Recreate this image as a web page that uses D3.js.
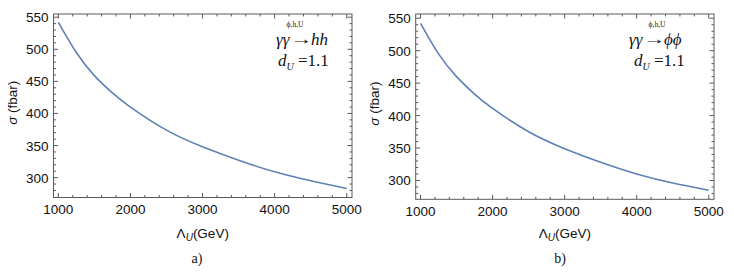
<html><head>
<meta charset="utf-8">
<script src="https://cdnjs.cloudflare.com/ajax/libs/d3/7.8.5/d3.min.js"></script>
<style>
  body { margin: 0; background: #fff; }
  .tick-label { font-family: "Liberation Sans", Arial, sans-serif; font-size: 13.5px; fill: #111; }
  .axis-title { font-family: "Liberation Sans", Arial, sans-serif; font-size: 13.5px; fill: #111; }
  .anno { font-family: "Liberation Serif", "Times New Roman", serif; fill: #111; }
  .panel-tag { font-family: "Liberation Serif", "Times New Roman", serif; font-size: 14px; fill: #111; }
</style>
</head>
<body>
<script>
// values
var lambdaU = [1000, 1250, 1500, 1750, 2000, 2500, 3000, 3500, 4000, 4500, 5000];
var sigmaHH = [542, 495, 459, 432, 410, 374, 348, 327, 309, 295, 283];
var sigmaPhiPhi = [542, 495, 460, 433, 411, 375, 349, 328, 310, 296, 285];
var xTicks = [1000, 2000, 3000, 4000, 5000];
var yTicks = [300, 350, 400, 450, 500, 550];

var svg = d3.select("body").append("svg")
    .attr("width", 734).attr("height", 278);

function panel(opt) {
    var g = svg.append("g");
    var x = d3.scaleLinear().domain([933, 5073]).range([opt.left, opt.right]);
    var y = d3.scaleLinear().domain(opt.ydom).range([opt.bottom, opt.top]);

    // frame
    g.append("rect")
        .attr("x", opt.left).attr("y", opt.top)
        .attr("width", opt.right - opt.left).attr("height", opt.bottom - opt.top)
        .attr("fill", "none").attr("stroke", "#5a5a5a").attr("stroke-width", 1);

    // ticks, inward, on all four sides
    var xMinor = d3.range(1000, 5001, 200);
    xMinor.forEach(function(v) {
        var len = v % 1000 == 0 ? 4.5 : 2.5;
        g.append("line").attr("x1", x(v)).attr("x2", x(v))
            .attr("y1", opt.bottom).attr("y2", opt.bottom - len)
            .attr("stroke", "#5a5a5a");
        g.append("line").attr("x1", x(v)).attr("x2", x(v))
            .attr("y1", opt.top).attr("y2", opt.top + len)
            .attr("stroke", "#5a5a5a");
    });
    var yMinor = d3.range(280, 551, 10);
    yMinor.forEach(function(v) {
        var len = v % 50 == 0 ? 4.5 : 2.5;
        g.append("line").attr("y1", y(v)).attr("y2", y(v))
            .attr("x1", opt.left).attr("x2", opt.left + len)
            .attr("stroke", "#5a5a5a");
        g.append("line").attr("y1", y(v)).attr("y2", y(v))
            .attr("x1", opt.right).attr("x2", opt.right - len)
            .attr("stroke", "#5a5a5a");
    });

    g.selectAll(".xl").data(xTicks).enter().append("text")
        .attr("class", "tick-label")
        .attr("x", function(d) { return x(d); })
        .attr("y", opt.bottom + 16.5)
        .attr("text-anchor", "middle")
        .text(function(d) { return d; });
    g.selectAll(".yl").data(yTicks).enter().append("text")
        .attr("class", "tick-label")
        .attr("x", opt.left - 5)
        .attr("y", function(d) { return y(d) + 5; })
        .attr("text-anchor", "end")
        .text(function(d) { return d; });

    // axis titles
    var xt = g.append("text").attr("class", "axis-title")
        .attr("x", (opt.left + opt.right) / 2).attr("y", 238)
        .attr("text-anchor", "middle");
    xt.append("tspan").text("\u039B");
    xt.append("tspan").attr("font-style", "italic").attr("font-size", "10px").attr("dy", 3).text("U");
    xt.append("tspan").attr("dy", -3).text("(GeV)");

    var yt = g.append("text").attr("class", "axis-title")
        .attr("transform", "translate(" + (opt.left - 37) + "," + ((opt.top + opt.bottom) / 2 - 3) + ") rotate(-90)")
        .attr("text-anchor", "middle");
    yt.append("tspan").attr("font-style", "italic").text("\u03C3");
    yt.append("tspan").text(" (fbar)");

    // curve
    var line = d3.line()
        .x(function(d) { return x(d[0]); })
        .y(function(d) { return y(d[1]); })
        .curve(d3.curveNatural);
    g.append("path")
        .datum(d3.zip(lambdaU, opt.values))
        .attr("d", line)
        .attr("fill", "none")
        .attr("stroke", "#5e81b5")
        .attr("stroke-width", 1.6);

    // annotation: gamma gamma --(phi,h,U)--> final state
    var ax = opt.annoX;
    g.append("text").attr("class", "anno").attr("x", ax).attr("y", 45)
        .attr("font-size", "17px").attr("font-style", "italic").text("\u03B3\u03B3");
    g.append("text").attr("class", "anno")
        .attr("transform", "translate(" + (ax + 14) + ",44) scale(1.5,1)")
        .attr("font-size", "15px").text("\u2192");
    g.append("text").attr("class", "anno").attr("x", ax + 35).attr("y", 45)
        .attr("font-size", "17px").attr("font-style", "italic").text(opt.product);
    g.append("text").attr("class", "anno").attr("x", opt.supX).attr("y", 27)
        .attr("font-size", "7.5px").attr("text-anchor", "middle")
        .text("\u03D5,h,U");

    var t2 = g.append("text").attr("class", "anno").attr("x", opt.dX).attr("y", 66)
        .attr("font-size", "17px");
    t2.append("tspan").attr("font-style", "italic").text("d");
    t2.append("tspan").attr("font-style", "italic").attr("font-size", "10px").attr("dy", 4).text("U");
    t2.append("tspan").attr("dy", -4).text(" =1.1");

    g.append("text").attr("class", "panel-tag")
        .attr("x", opt.tagX).attr("y", 263)
        .attr("text-anchor", "middle").text(opt.tag);
}

panel({left: 53.5, right: 352, top: 14, bottom: 197.5, ydom: [269, 555],
       values: sigmaHH, product: "hh", annoX: 276, supX: 295, dX: 278, tagX: 197, tag: "a)"});
panel({left: 415.7, right: 714, top: 14, bottom: 199.3, ydom: [271, 556.5],
       values: sigmaPhiPhi, product: "\u03D5\u03D5", annoX: 629, supX: 657, dX: 634, tagX: 560, tag: "b)"});
</script>
</body></html>
